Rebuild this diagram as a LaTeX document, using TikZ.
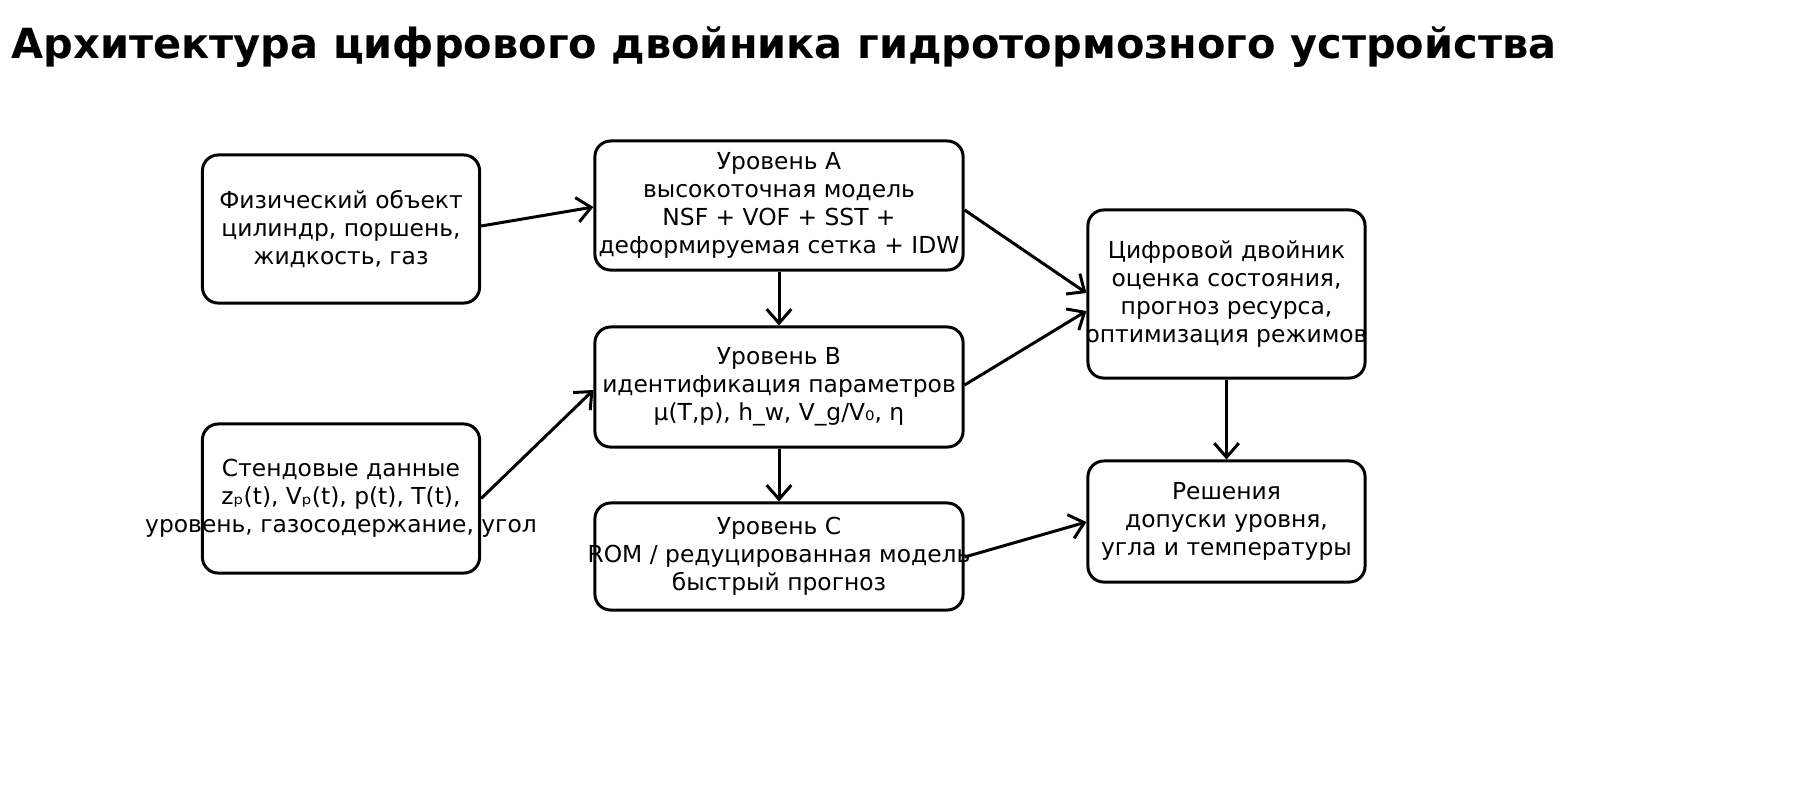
\documentclass[tikz,border=0pt]{standalone}
\usepackage{fontspec}
\setmainfont{DejaVu Sans}
\usetikzlibrary{calc,arrows.meta}
\begin{document}
\begin{tikzpicture}[x=0.01cm,y=-0.01cm,
  box/.style={draw,line width=0.85pt,rounded corners=4.5pt,inner sep=0pt},
  lbl/.style={align=center,font=\fontsize{6.65}{7.97}\selectfont,inner sep=0pt},
  arr/.style={-{Straight Barb[length=4pt,width=7pt]},line width=0.85pt}]
\node[font=\bfseries\fontsize{11.8}{14}\selectfont] (title) at (784,47) {Архитектура цифрового двойника гидротормозного устройства};
% boxes
\node[box,minimum width=2.77cm,minimum height=1.48cm] (phys) at (341,229) {};
\node[box,minimum width=3.68cm,minimum height=1.29cm] (A) at (779,205.5) {};
\node[box,minimum width=3.68cm,minimum height=1.20cm] (B) at (779,387) {};
\node[box,minimum width=3.68cm,minimum height=1.07cm] (C) at (779,556.5) {};
\node[box,minimum width=2.77cm,minimum height=1.49cm] (stand) at (341,498.5) {};
\node[box,minimum width=2.77cm,minimum height=1.68cm] (DT) at (1226.5,294) {};
\node[box,minimum width=2.77cm,minimum height=1.21cm] (dec) at (1226.5,521.5) {};
% labels
\node[lbl] (tphys) at (phys) {Физический объект\\цилиндр, поршень,\\жидкость, газ};
\node[lbl] (tA) at (A) {Уровень A\\высокоточная модель\\NSF + VOF + SST +\\деформируемая сетка + IDW};
\node[lbl] (tB) at (B) {Уровень B\\идентификация параметров\\μ(T,p), h\_w, V\_g/V₀, η};
\node[lbl] (tC) at (C) {Уровень C\\ROM / редуцированная модель\\быстрый прогноз};
\node[lbl] (tstand) at (stand) {Стендовые данные\\zₚ(t), Vₚ(t), p(t), T(t),\\уровень, газосодержание, угол};
\node[lbl] (tDT) at (DT) {Цифровой двойник\\оценка состояния,\\прогноз ресурса,\\оптимизация режимов};
\node[lbl] (tdec) at (dec) {Решения\\допуски уровня,\\угла и температуры};
% arrows
\draw[arr] ($(phys.east)+(0,-3)$) -- ($(A.west)+(0,1.5)$);
\draw[arr] (A.south) -- (B.north);
\draw[arr] (B.south) -- (C.north);
\draw[arr] (stand.east) -- ($(B.west)+(0,3)$);
\draw[arr] ($(A.east)+(0,4.5)$) -- ($(DT.west)+(0,-1)$);
\draw[arr] ($(B.east)+(0,-2)$) -- ($(DT.west)+(0,17)$);
\draw[arr] ($(C.east)+(0,0.5)$) -- ($(dec.west)+(0,0.5)$);
\draw[arr] (DT.south) -- (dec.north);
\pgfresetboundingbox
\path[use as bounding box] (0,0) rectangle (1800,787);
\end{tikzpicture}
\end{document}
